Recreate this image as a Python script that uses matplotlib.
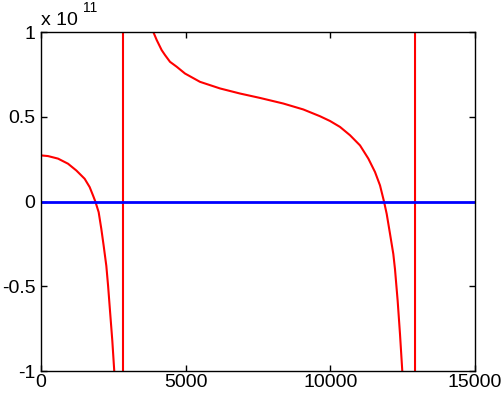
import numpy as np
import matplotlib
matplotlib.use("Agg")
import matplotlib.pyplot as plt

# red curve (y in units of 1e11)
# the two vertical jumps are the poles near 2834 and 12927
curve_x = [0, 242, 588, 933, 1221, 1509, 1682, 1797, 1878, 1993, 2085, 2165, 2258,
           2320, 2385, 2465, 2534, 2650, 2834,
           2834, 3500, 3882, 3998, 4171, 4286, 4459, 4690, 4977, 5495, 6187, 6878,
           7569, 8375, 9066, 9643, 9989, 10334, 10680, 11026, 11314, 11544, 11717,
           11855, 11948, 12063, 12177, 12235, 12327, 12408, 12489, 12650, 12927,
           12927, 14000, 15000]
curve_y = [0.272, 0.268, 0.253, 0.223, 0.183, 0.134, 0.085, 0.036, 0.0, -0.063,
           -0.162, -0.260, -0.380, -0.500, -0.645, -0.822, -1.006, -1.6, -60.0,
           60.0, 1.6, 1.0, 0.953, 0.893, 0.864, 0.824, 0.795, 0.755, 0.706, 0.667,
           0.637, 0.611, 0.578, 0.543, 0.503, 0.475, 0.440, 0.391, 0.331, 0.253,
           0.174, 0.095, 0.0, -0.073, -0.191, -0.310, -0.400, -0.586, -0.783,
           -1.006, -1.8, -60.0,
           60.0, 3.0, 2.0]

zero_x = [0, 15000]
zero_y = [0, 0]

x_ticks = [0, 5000, 10000, 15000]
y_ticks = [-1, -0.5, 0, 0.5, 1]
y_labels = ["-1", "-0.5", "0", "0.5", "1"]

plt.rcParams["font.family"] = ["Liberation Sans", "DejaVu Sans"]
plt.rcParams["font.size"] = 14

fig = plt.figure(figsize=(5.04, 3.94), dpi=100)
ax = fig.add_axes([41 / 504, 23 / 394, 434 / 504, 339 / 394])

ax.plot(curve_x, np.array(curve_y) * 1e11, color="#ff0000", lw=1.5)
ax.plot(zero_x, zero_y, color="#0000ff", lw=2)

ax.set_xlim(0, 15000)
ax.set_ylim(-1e11, 1e11)
ax.set_xticks(x_ticks)
ax.set_xticklabels([str(t) for t in x_ticks])
ax.set_yticks([v * 1e11 for v in y_ticks])
ax.set_yticklabels(y_labels)

ax.tick_params(direction="in", length=4, width=1, top=True, right=True)
ax.tick_params(axis="y", pad=4)
ax.tick_params(axis="x", pad=2)
for s in ax.spines.values():
    s.set_linewidth(1)

# MATLAB-style exponent label
ax.text(0.0, 1.021, "x 10", transform=ax.transAxes, fontsize=14, va="baseline", ha="left")
ax.text(0.097, 1.059, "11", transform=ax.transAxes, fontsize=10, va="baseline", ha="left")

fig.savefig("out.png", dpi=100)
